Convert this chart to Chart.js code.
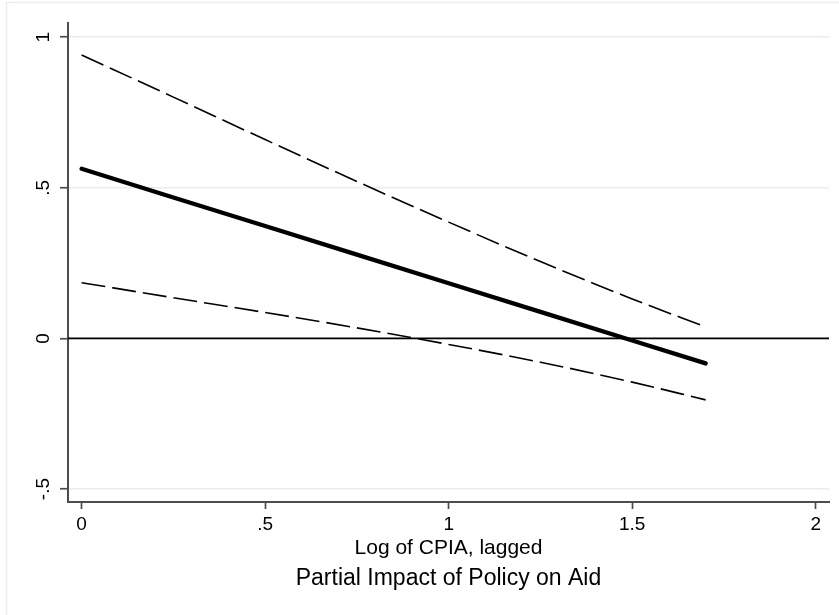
<!DOCTYPE html>
<html><head><meta charset="utf-8">
<script src="https://cdn.jsdelivr.net/npm/chart.js@4.4.1/dist/chart.umd.min.js"></script>
<style>html,body{margin:0;padding:0;background:#fff;} #wrap{width:839px;height:615px;}</style>
</head><body><div id="wrap"><canvas id="c" width="839" height="615"></canvas></div>
<script>
// Data
const xValues  = [0, 0.25, 0.5, 0.75, 1.0, 1.25, 1.5, 1.7];
const estimate = [0.563, 0.468, 0.373, 0.278, 0.183, 0.088, -0.007, -0.083];
const upperCI  = [0.941, 0.801, 0.660, 0.521, 0.386, 0.255, 0.131, 0.038];
const lowerCI  = [0.185, 0.135, 0.086, 0.035, -0.020, -0.079, -0.145, -0.204];
const xTicks = [0, 0.5, 1, 1.5, 2];
const xTickLabels = ['0', '.5', '1', '1.5', '2'];
const yTicks = [-0.5, 0, 0.5, 1];
const yTickLabels = ['-.5', '0', '.5', '1'];
const refLineY = 0;
const xTitle = 'Log of CPIA, lagged';
const chartTitle = 'Partial Impact of Policy on Aid';

const FONT = "'Liberation Sans', Arial, Helvetica, sans-serif";
const AXIS = '#4d4d4d';
const GRID = '#e6eef1';

const pts = arr => xValues.map((x, i) => ({x: x, y: arr[i]}));

const framePlugin = {
  id: 'frame',
  beforeDraw(chart) {
    const ctx = chart.ctx;
    ctx.save();
    ctx.fillStyle = '#fff';
    ctx.fillRect(0, 0, chart.width, chart.height);
    ctx.strokeStyle = GRID;
    ctx.lineWidth = 1.5;
    ctx.strokeRect(6.5, 2.5, chart.width + 20, chart.height + 20);
    ctx.restore();
  },
  beforeDatasetsDraw(chart) {
    const ctx = chart.ctx, a = chart.chartArea;
    const y = chart.scales.y.getPixelForValue(refLineY);
    ctx.save();
    ctx.strokeStyle = '#000';
    ctx.lineWidth = 1.8;
    ctx.beginPath();
    ctx.moveTo(a.left, y);
    ctx.lineTo(a.right, y);
    ctx.stroke();
    ctx.restore();
  }
};

new Chart(document.getElementById('c'), {
  type: 'scatter',
  data: {
    datasets: [
      {label: 'upper', data: pts(upperCI), showLine: true, borderColor: '#000', borderWidth: 1.6,
       borderDash: [24, 7], pointRadius: 0, cubicInterpolationMode: 'monotone'},
      {label: 'lower', data: pts(lowerCI), showLine: true, borderColor: '#000', borderWidth: 1.6,
       borderDash: [24, 7], pointRadius: 0, cubicInterpolationMode: 'monotone'},
      {label: 'estimate', data: pts(estimate), showLine: true, borderColor: '#000', borderWidth: 4.3,
       borderCapStyle: 'round', pointRadius: 0}
    ]
  },
  options: {
    responsive: false,
    animation: false,
    devicePixelRatio: 1,
    layout: {padding: {left: 0, right: 10, top: 23, bottom: 0}},
    plugins: {
      legend: {display: false},
      tooltip: {enabled: false},
      title: {display: true, position: 'bottom', fullSize: false, text: chartTitle, color: '#000',
              font: {family: FONT, size: 23, weight: 'normal'}, padding: {top: 0, bottom: 23}}
    },
    scales: {
      x: {
        type: 'linear', min: -0.037, max: 2.036,
        afterBuildTicks: s => { s.ticks = xTicks.map(v => ({value: v})); },
        afterFit: s => { s.height = 62.4; },
        ticks: {callback: v => xTickLabels[xTicks.indexOf(v)], color: '#000',
                font: {family: FONT, size: 19}, padding: 4.7, maxRotation: 0, autoSkip: false},
        grid: {display: true, drawOnChartArea: false, drawTicks: true, tickLength: 7,
               tickColor: AXIS, tickWidth: 1.7},
        border: {display: true, color: AXIS, width: 2},
        title: {display: true, text: xTitle, color: '#000', font: {family: FONT, size: 21},
                padding: {top: 0, bottom: 3.8}}
      },
      y: {
        type: 'linear', min: -0.543, max: 1.047,
        afterBuildTicks: s => { s.ticks = yTicks.map(v => ({value: v})); },
        afterFit: s => { s.width = 68; },
        ticks: {callback: v => yTickLabels[yTicks.indexOf(v)], color: '#000',
                font: {family: FONT, size: 19}, padding: 5.5, minRotation: 90, maxRotation: 90,
                crossAlign: 'center', autoSkip: false},
        grid: {display: true, drawOnChartArea: true, color: GRID, lineWidth: 1.5, drawTicks: true,
               tickLength: 8, tickColor: AXIS, tickWidth: 1.7},
        border: {display: true, color: AXIS, width: 2}
      }
    }
  },
  plugins: [framePlugin]
});
</script></body></html>
